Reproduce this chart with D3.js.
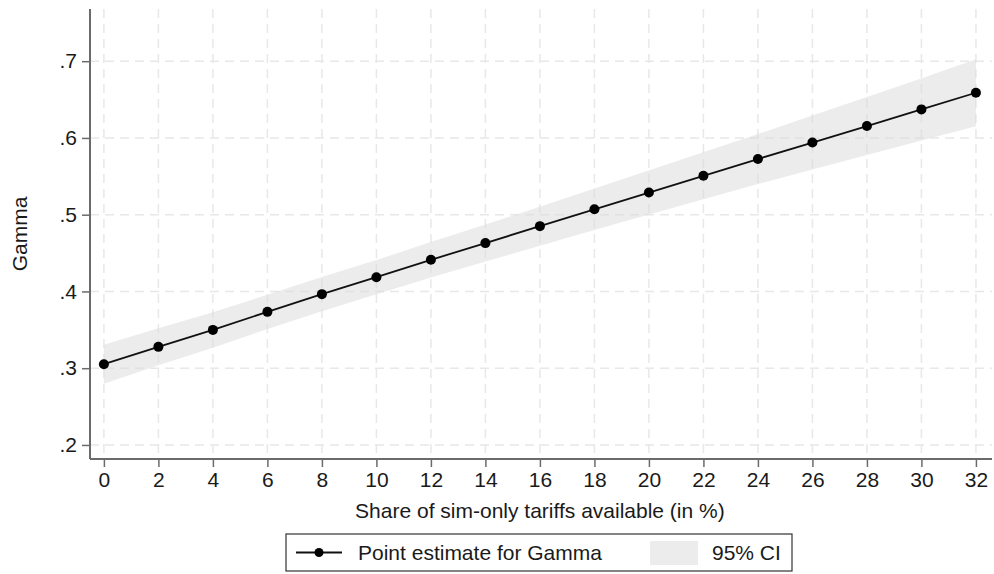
<!DOCTYPE html>
<html>
<head>
<meta charset="utf-8">
<script src="https://cdn.jsdelivr.net/npm/d3@7"></script>
<style>
  body { margin: 0; background: #fff; }
  text { font-family: "Liberation Sans", Arial, sans-serif; fill: #1a1a1a; }
</style>
</head>
<body>
<div id="graphique"></div>
<script>
// donnees
var parts = [0, 2, 4, 6, 8, 10, 12, 14, 16, 18, 20, 22, 24, 26, 28, 30, 32];
var gamma = [0.3052, 0.3278, 0.3499, 0.3734, 0.3965, 0.4186, 0.4412, 0.4630, 0.4851,
             0.5070, 0.5289, 0.5507, 0.5725, 0.5940, 0.6155, 0.6372, 0.6589];
var icBas = [0.2798, 0.3037, 0.3268, 0.3511, 0.3743, 0.3963, 0.4181, 0.4389, 0.4597,
             0.4800, 0.5002, 0.5201, 0.5399, 0.5588, 0.5777, 0.5968, 0.6152];
var icHaut = [0.3306, 0.3519, 0.3730, 0.3957, 0.4187, 0.4409, 0.4643, 0.4871, 0.5105,
              0.5340, 0.5576, 0.5813, 0.6051, 0.6292, 0.6533, 0.6776, 0.7026];
var ticksY = [0.2, 0.3, 0.4, 0.5, 0.6, 0.7];
var labelsY = [".2", ".3", ".4", ".5", ".6", ".7"];

var largeur = 994, hauteur = 574;
var gauche = 90, droite = 992, haut = 9, bas = 459;
var taille = 21;

var svg = d3.select("#graphique").append("svg")
    .attr("width", largeur).attr("height", hauteur);

var x = d3.scaleLinear().domain([-0.51, 32.59]).range([gauche, droite]);
var y = d3.scaleLinear().domain([0.1817, 0.768]).range([bas, haut]);

// grille en pointilles
var grille = svg.append("g");
grille.selectAll("line.gy").data(ticksY).enter().append("line")
    .attr("x1", gauche).attr("x2", droite)
    .attr("y1", function(d) { return y(d); }).attr("y2", function(d) { return y(d); })
    .attr("stroke", "#e8e8e8").attr("stroke-width", 1.5).attr("stroke-dasharray", "9,6");
grille.selectAll("line.gx").data(parts).enter().append("line")
    .attr("y1", haut).attr("y2", bas)
    .attr("x1", function(d) { return x(d); }).attr("x2", function(d) { return x(d); })
    .attr("stroke", "#e8e8e8").attr("stroke-width", 1.5).attr("stroke-dasharray", "9,6");

// intervalle de confiance
var zone = d3.area()
    .x(function(d, i) { return x(parts[i]); })
    .y0(function(d, i) { return y(icBas[i]); })
    .y1(function(d, i) { return y(icHaut[i]); });
svg.append("path").datum(parts).attr("d", zone)
    .attr("fill", "#d9d9d9").attr("fill-opacity", 0.5);

// ligne et points
var ligne = d3.line()
    .x(function(d, i) { return x(parts[i]); })
    .y(function(d) { return y(d); });
svg.append("path").datum(gamma).attr("d", ligne)
    .attr("fill", "none").attr("stroke", "#111").attr("stroke-width", 1.8);
svg.selectAll("circle.pt").data(gamma).enter().append("circle")
    .attr("cx", function(d, i) { return x(parts[i]); })
    .attr("cy", function(d) { return y(d); })
    .attr("r", 5).attr("fill", "#000");

// axes
var axeX = svg.append("g").attr("transform", "translate(0," + bas + ")")
    .call(d3.axisBottom(x).tickValues(parts).tickSize(8).tickPadding(5).tickFormat(d3.format("d")));
var axeY = svg.append("g").attr("transform", "translate(" + gauche + ",0)")
    .call(d3.axisLeft(y).tickValues(ticksY).tickSize(8).tickPadding(5)
        .tickFormat(function(d, i) { return labelsY[i]; }));
[axeX, axeY].forEach(function(a) {
    a.select(".domain").attr("stroke", "#6b6b6b").attr("stroke-width", 2);
    a.selectAll(".tick line").attr("stroke", "#6b6b6b").attr("stroke-width", 1.5);
    a.selectAll(".tick text").attr("font-size", taille).attr("fill", "#1a1a1a")
        .attr("font-family", "Liberation Sans, Arial, sans-serif");
});
axeX.select(".domain").attr("d", "M" + gauche + ",0H" + droite);
axeY.select(".domain").attr("d", "M0," + haut + "V" + bas);

svg.append("text")
    .attr("x", (x(0) + x(32)) / 2).attr("y", 518)
    .attr("text-anchor", "middle").attr("font-size", taille)
    .text("Share of sim-only tariffs available (in %)");
svg.append("text")
    .attr("transform", "translate(27," + ((haut + bas) / 2) + ") rotate(-90)")
    .attr("text-anchor", "middle").attr("font-size", taille)
    .text("Gamma");

// legende
var leg = svg.append("g");
leg.append("rect").attr("x", 286).attr("y", 534).attr("width", 506).attr("height", 37)
    .attr("fill", "#fff").attr("stroke", "#333").attr("stroke-width", 1.2);
leg.append("line").attr("x1", 296).attr("x2", 342).attr("y1", 552.5).attr("y2", 552.5)
    .attr("stroke", "#111").attr("stroke-width", 1.8);
leg.append("circle").attr("cx", 319).attr("cy", 552.5).attr("r", 4.5).attr("fill", "#000");
leg.append("text").attr("x", 358).attr("y", 560).attr("font-size", taille)
    .text("Point estimate for Gamma");
leg.append("rect").attr("x", 650).attr("y", 541).attr("width", 48).attr("height", 24)
    .attr("fill", "#d9d9d9").attr("fill-opacity", 0.5);
leg.append("text").attr("x", 712).attr("y", 560).attr("font-size", taille)
    .text("95% CI");
</script>
</body>
</html>
